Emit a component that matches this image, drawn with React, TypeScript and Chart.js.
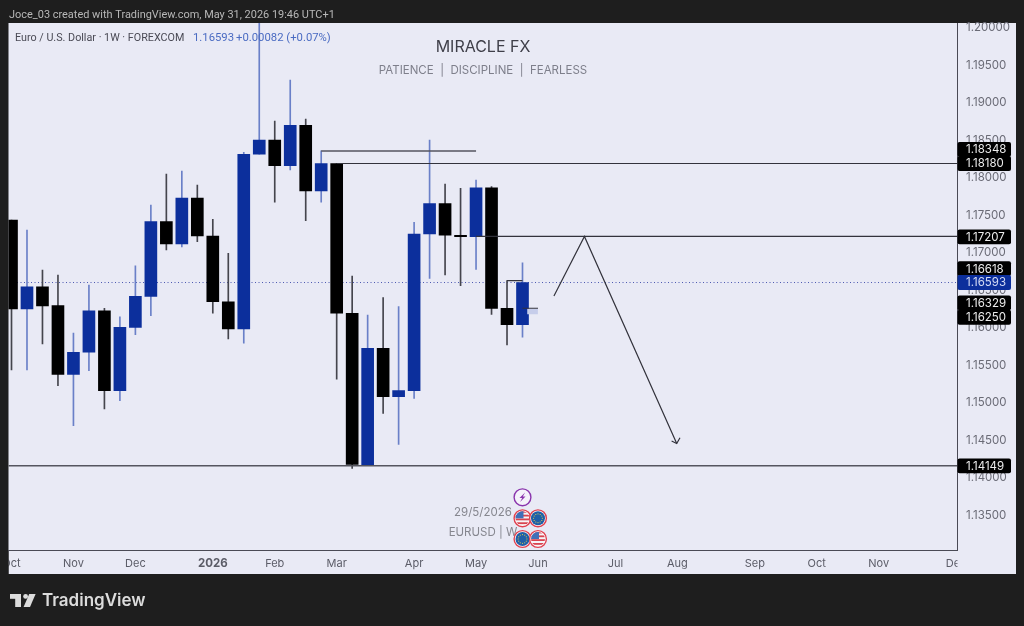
import { useEffect, useRef } from "react"
import { Chart, registerables } from "chart.js"

Chart.register(...registerables)

const opens = [1.17427, 1.1624, 1.16537, 1.16284, 1.15369, 1.15663, 1.16217, 1.15151, 1.15996, 1.16409, 1.17404, 1.17107, 1.1772, 1.17213, 1.16337, 1.15973, 1.18303, 1.18493, 1.18151, 1.18689, 1.17813, 1.1818, 1.16183, 1.1416, 1.15716, 1.15071, 1.15151, 1.1724, 1.17644, 1.17223, 1.17204, 1.17857, 1.16249, 1.16031]
const highs = [1.17427, 1.17293, 1.1676, 1.16693, 1.1592, 1.1656, 1.16249, 1.16137, 1.16817, 1.17627, 1.1804, 1.1808, 1.17893, 1.17436, 1.16983, 1.18329, 1.2015, 1.18747, 1.19293, 1.18773, 1.18348, 1.1818, 1.1668, 1.1616, 1.16391, 1.16271, 1.17396, 1.18493, 1.17907, 1.17849, 1.1796, 1.17871, 1.16618, 1.16857]
const lows = [1.15427, 1.15427, 1.15773, 1.15217, 1.14684, 1.15417, 1.14907, 1.15017, 1.15897, 1.16151, 1.17027, 1.17067, 1.17137, 1.16183, 1.1584, 1.15783, 1.18303, 1.17663, 1.18093, 1.17417, 1.17663, 1.15303, 1.14116, 1.1416, 1.14849, 1.14436, 1.15049, 1.16649, 1.16693, 1.16551, 1.16769, 1.16169, 1.1576, 1.15863]
const closes = [1.1624, 1.16537, 1.1628, 1.15369, 1.15663, 1.16217, 1.15151, 1.15996, 1.16409, 1.17404, 1.17107, 1.1772, 1.17213, 1.16337, 1.15973, 1.18303, 1.18493, 1.18151, 1.18689, 1.17813, 1.1818, 1.16183, 1.14169, 1.15716, 1.15071, 1.15151, 1.1724, 1.17644, 1.17223, 1.17204, 1.17857, 1.16249, 1.16031, 1.16593]

const priceTicks = [1.2, 1.195, 1.19, 1.185, 1.18, 1.175, 1.17, 1.165, 1.16, 1.155, 1.15, 1.145, 1.14, 1.135]
const monthTicks = [0, 4, 8, 13, 17, 21, 26, 30, 34, 39, 43, 48, 52, 56, 61]
const monthLabels = ["Oct", "Nov", "Dec", "2026", "Feb", "Mar", "Apr", "May", "Jun", "Jul", "Aug", "Sep", "Oct", "Nov", "Dec"]

const levelPrices = [1.18348, 1.1818, 1.17207, 1.14149, 1.16618, 1.1625]
const levelStarts = [20, 21, 30, -1, 32, 33]
const levelEnds = [30, 62, 62, 62, 33, 34]

const pathX = [35.03, 37, 42.96]
const pathY = [1.16413, 1.17207, 1.14447]
const arrowX = [42.63, 42.96, 43.17]
const arrowY = [1.1448, 1.14447, 1.14524]

const lastPrice = 1.16593
const forecastBand = [1.16173, 1.1624]

const tagPrices = [1.18348, 1.1818, 1.17207, 1.16618, 1.16329, 1.1625, 1.14149, 1.16593]
const tagNudges = [-1.5, 0, 0.5, -12, 0.5, 9, 0, 0]

const DARK = "#1e1e1e"
const PANEL = "#e9eaf5"
const BLUE = "#0c2f9c"
const BLUE_WICK = "#6a80c8"
const BLACK_WICK = "#45454d"
const X_MIN = -0.194
const X_MAX = 61.06

function flag(ctx: CanvasRenderingContext2D, x: number, y: number, kind: string) {
    const r = 8.4
    ctx.save()
    ctx.beginPath()
    ctx.arc(x, y, r, 0, Math.PI * 2)
    ctx.fillStyle = "#ffffff"
    ctx.fill()
    ctx.beginPath()
    ctx.arc(x, y, r - 1.4, 0, Math.PI * 2)
    ctx.clip()
    if (kind === "us") {
        ctx.fillStyle = "#f4f4f6"
        ctx.fillRect(x - r, y - r, r * 2, r * 2)
        ctx.fillStyle = "#d8434f"
        for (let i = 0; i < 4; i++) {
            ctx.fillRect(x - r, y - r + 1 + i * 3.8, r * 2, 1.8)
        }
        ctx.fillStyle = "#3f6fb8"
        ctx.fillRect(x - r, y - r, r + 1, r)
    } else {
        ctx.fillStyle = "#1f5fa8"
        ctx.fillRect(x - r, y - r, r * 2, r * 2)
        ctx.fillStyle = "#d9c94a"
        for (let i = 0; i < 12; i++) {
            const a = (i / 12) * Math.PI * 2
            ctx.fillRect(x + Math.cos(a) * 4.4 - 0.5, y + Math.sin(a) * 4.4 - 0.5, 1, 1)
        }
    }
    ctx.restore()
    ctx.beginPath()
    ctx.arc(x, y, r, 0, Math.PI * 2)
    ctx.lineWidth = 1.4
    ctx.strokeStyle = "#e0404f"
    ctx.stroke()
}

const decorations = {
    id: "decorations",
    beforeDraw(chart: any) {
        const { ctx, chartArea } = chart
        ctx.save()
        ctx.fillStyle = DARK
        ctx.fillRect(0, 0, chart.width, chart.height)
        ctx.fillStyle = PANEL
        ctx.fillRect(chartArea.left, chartArea.top, 1016 - chartArea.left, 574 - chartArea.top)

        ctx.textBaseline = "middle"
        ctx.textAlign = "left"
        ctx.fillStyle = "#b8b8b8"
        ctx.font = "10.95px Roboto"
        ctx.fillText("Joce_03 created with TradingView.com, May 31, 2026 19:46 UTC+1", 9, 15)

        ctx.textAlign = "center"
        ctx.fillStyle = "#3f3f49"
        ctx.font = "16px Inter"
        ctx.fillText("MIRACLE FX", 483, 47)
        ctx.fillStyle = "#7e7f8b"
        ctx.font = "11.5px Inter"
        ctx.fillText("PATIENCE  |  DISCIPLINE  |  FEARLESS", 483, 71)
        ctx.fillStyle = "#86878f"
        ctx.fillText("29/5/2026", 483, 513)
        ctx.fillText("EURUSD | W", 483, 533)
        ctx.restore()
    },
    afterDraw(chart: any) {
        const { ctx, chartArea, scales } = chart
        ctx.save()
        // month labels are cut off by the pane edges
        ctx.fillStyle = DARK
        ctx.fillRect(0, chartArea.bottom + 1, chartArea.left, 24)
        ctx.fillStyle = PANEL
        ctx.fillRect(chartArea.right + 0.5, chartArea.bottom + 1, 1016 - chartArea.right - 0.5, 23)

        ctx.textBaseline = "middle"
        ctx.textAlign = "left"
        ctx.font = "10.75px Roboto"
        ctx.fillStyle = "#4a4a55"
        ctx.fillText("Euro / U.S. Dollar · 1W · FOREXCOM", 15, 38)
        ctx.font = "11.3px Roboto"
        ctx.fillStyle = "#4a6bc2"
        ctx.fillText("1.16593", 193, 38)
        ctx.fillText("+0.00082 (+0.07%)", 236, 38)

        tagPrices.forEach((price, i) => {
            const y = scales.y.getPixelForValue(price) + tagNudges[i]
            ctx.beginPath()
            ctx.roundRect(chartArea.right + 0.5, y - 7.4, 53.5, 14.8, 2)
            ctx.fillStyle = price === lastPrice ? BLUE : "#000000"
            ctx.fill()
            ctx.fillStyle = price === lastPrice ? "#d5dcf5" : "#ececec"
            ctx.font = "11.5px Inter"
            ctx.fillText(price.toFixed(5), 966, y + 0.5)
        })

        const x33 = scales.x.getPixelForValue(33)
        const x34 = scales.x.getPixelForValue(34)
        ctx.beginPath()
        ctx.arc(x33, 497.3, 8.4, 0, Math.PI * 2)
        ctx.fillStyle = "#f4f2fa"
        ctx.fill()
        ctx.lineWidth = 1.4
        ctx.strokeStyle = "#8a35ad"
        ctx.stroke()
        ctx.beginPath()
        ctx.moveTo(x33 + 2.6, 492.6)
        ctx.lineTo(x33 - 3, 498)
        ctx.lineTo(x33 - 0.3, 498)
        ctx.lineTo(x33 - 2.4, 502)
        ctx.lineTo(x33 + 3, 496.6)
        ctx.lineTo(x33 + 0.3, 496.6)
        ctx.closePath()
        ctx.fillStyle = "#8a35ad"
        ctx.fill()
        flag(ctx, x33, 518.3, "us")
        flag(ctx, x34, 518.3, "eu")
        flag(ctx, x33, 539, "eu")
        flag(ctx, x34, 539, "us")

        // TradingView footer
        ctx.fillStyle = "#dcdcdc"
        ctx.fillRect(10, 594, 11, 4.8)
        ctx.fillRect(15.2, 594, 5.8, 13)
        ctx.beginPath()
        ctx.arc(25.6, 596.4, 2.4, 0, Math.PI * 2)
        ctx.fill()
        ctx.beginPath()
        ctx.moveTo(29.2, 594)
        ctx.lineTo(35.6, 594)
        ctx.lineTo(30, 607)
        ctx.lineTo(23.6, 607)
        ctx.closePath()
        ctx.fill()
        ctx.font = "600 17px Inter"
        ctx.fillText("TradingView", 42, 600.5)
        ctx.restore()
    }
}

function App() {
    const canvasRef = useRef<HTMLCanvasElement>(null)

    useEffect(() => {
        const rising = closes.map((c, i) => c >= opens[i])

        const line = (data: any[], color: string, width: number) => ({
            type: "line",
            data,
            borderColor: color,
            borderWidth: width,
            pointRadius: 0,
            tension: 0,
            order: 1
        })

        const levels = levelPrices.map((price, i) =>
            line(
                [{ x: levelStarts[i], y: price }, { x: levelEnds[i], y: price }],
                i === 0 || i === 3 ? "#55555f" : "#33333c",
                i === 0 || i === 3 ? 1.5 : 1.2
            )
        )

        const chart = new Chart(canvasRef.current, {
            data: {
                datasets: [
                    {
                        type: "bar",
                        data: highs.map((h, i) => ({ x: i, y: [lows[i], h] })),
                        backgroundColor: rising.map(r => (r ? BLUE_WICK : BLACK_WICK)),
                        barThickness: 1,
                        grouped: false,
                        order: 5
                    },
                    {
                        type: "bar",
                        data: opens.map((o, i) => ({ x: i, y: [o, closes[i]] })),
                        backgroundColor: rising.map(r => (r ? BLUE : "#000000")),
                        barThickness: 12,
                        grouped: false,
                        order: 4
                    },
                    {
                        type: "bar",
                        data: [{ x: 33.65, y: forecastBand }],
                        backgroundColor: "#c6cdea",
                        barThickness: 10,
                        grouped: false,
                        order: 3
                    },
                    {
                        ...line([{ x: -1, y: lastPrice }, { x: 62, y: lastPrice }], "#4a56b0", 1),
                        borderDash: [1, 2.5],
                        order: 6
                    },
                    ...levels,
                    line(pathX.map((x, i) => ({ x, y: pathY[i] })), "#33333c", 1.2),
                    line(arrowX.map((x, i) => ({ x, y: arrowY[i] })), "#33333c", 1.2)
                ]
            } as any,
            plugins: [decorations],
            options: {
                responsive: false,
                animation: false,
                events: [],
                layout: { padding: { left: 8.5, right: 8, top: 23, bottom: 52 } },
                plugins: {
                    legend: { display: false },
                    tooltip: { enabled: false }
                },
                scales: {
                    x: {
                        type: "linear",
                        offset: false,
                        min: X_MIN,
                        max: X_MAX,
                        grid: { display: false, drawTicks: false },
                        border: { color: "#4a4a55", width: 1 },
                        afterFit: (scale: any) => {
                            scale.height = 24
                            // stops the clipped first label pushing the plot to the right
                            scale.paddingLeft = 0
                            scale.paddingRight = 0
                        },
                        afterBuildTicks: (scale: any) => {
                            scale.ticks = monthTicks.map(value => ({ value }))
                        },
                        ticks: {
                            autoSkip: false,
                            maxRotation: 0,
                            padding: 7,
                            color: "#5b5c67",
                            font: (c: any) =>
                                c.tick && c.tick.value === 13
                                    ? { family: "Inter", size: 11.5, weight: 700 }
                                    : { family: "Inter", size: 11 },
                            callback: (value: any) => monthLabels[monthTicks.indexOf(value)]
                        }
                    },
                    y: {
                        position: "right",
                        min: 1.13027,
                        max: 1.20053,
                        grid: { display: false, drawTicks: false },
                        border: { color: "#4a4a55", width: 1 },
                        afterFit: (scale: any) => {
                            scale.width = 59
                        },
                        afterBuildTicks: (scale: any) => {
                            scale.ticks = priceTicks.map(value => ({ value }))
                        },
                        ticks: {
                            padding: 9,
                            labelOffset: 1,
                            color: "#6a6b76",
                            font: { family: "Inter", size: 11.5 },
                            callback: (value: any) => value.toFixed(5)
                        }
                    }
                }
            } as any
        })

        return () => {
            chart.destroy()
        }
    }, [])

    return (
        <div style={{ position: "fixed", inset: 0, background: DARK }}>
            <canvas ref={canvasRef} width={1024} height={626} style={{ display: "block" }}></canvas>
        </div>
    )
}

export default App
